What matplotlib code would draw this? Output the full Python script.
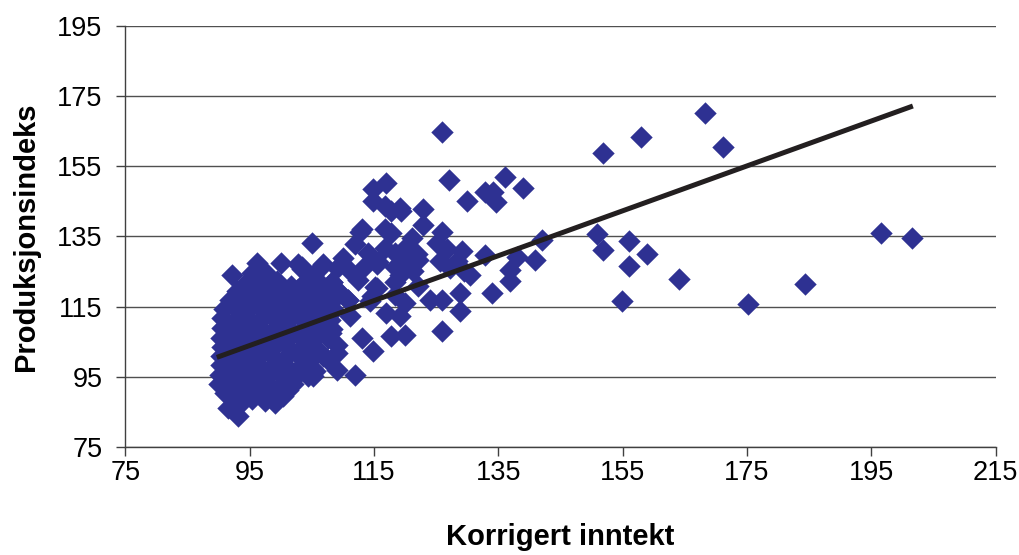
import numpy as np
import matplotlib
matplotlib.use("Agg")
import matplotlib.pyplot as plt

plt.rcParams['font.family'] = ['Liberation Sans', 'DejaVu Sans']

# municipalities far to the right
inntekt_hoy = [151.9, 158.0, 168.2, 171.2, 150.9, 151.9, 156.0, 159.0, 156.0, 164.0,
               154.9, 175.2, 184.3, 196.5, 201.5]
prod_hoy = [158.7, 163.4, 170.2, 160.6, 135.8, 131.2, 133.8, 130.0, 126.7, 122.8,
            116.6, 115.6, 121.3, 135.9, 134.5]

# middle band, income 105-142
inntekt_mid = [125.9, 127.0, 136.0, 138.9, 129.9, 132.9, 134.2, 134.7, 142.0, 140.9,
               138.0, 136.9, 136.9, 133.9, 132.9, 130.4, 129.4, 128.8, 128.8, 125.9,
               125.9, 124.0, 125.9, 125.1, 126.7, 129.1, 128.3, 125.6, 127.2, 122.9,
               122.9, 122.1, 121.3, 120.3, 121.9, 121.1, 120.0, 119.4, 119.2, 117.8,
               116.8, 114.9, 114.9, 117.0, 113.0, 116.8, 117.8, 111.9, 116.8, 114.1,
               110.0, 115.4, 113.3, 111.1, 109.0, 120.3, 119.2, 121.3, 122.1, 120.0,
               117.0, 119.2, 120.0, 117.8, 113.0, 114.9, 111.1, 109.0, 109.0, 111.9,
               115.4, 114.3, 105.0, 106.8, 115.6, 103.4, 108.2, 115.2, 112.4, 109.2,
               110.8, 114.7, 118.4, 118.4, 118.4, 118.4, 112.7, 105.2]
prod_mid = [164.9, 151.2, 152.0, 148.9, 145.0, 147.8, 147.8, 144.8, 134.0, 128.4,
            129.2, 125.4, 122.2, 118.8, 129.7, 124.1, 125.1, 118.9, 113.6, 108.1,
            117.0, 117.0, 136.3, 133.0, 131.3, 130.8, 127.9, 127.9, 126.1, 142.9,
            138.2, 128.4, 128.4, 129.4, 129.9, 134.6, 131.8, 142.2, 143.2, 142.2,
            143.7, 145.1, 148.4, 150.3, 137.0, 137.0, 136.1, 132.7, 131.8, 130.3,
            128.9, 127.0, 126.1, 125.1, 126.1, 127.9, 124.1, 125.1, 120.8, 115.9,
            113.2, 112.2, 107.0, 106.5, 106.1, 102.2, 112.2, 101.8, 97.0, 95.6,
            120.3, 116.5, 133.0, 127.0, 127.6, 126.4, 122.1, 120.7, 122.7, 119.3,
            117.0, 117.9, 121.9, 118.4, 130.4, 126.4, 136.4, 95.1]

# dense group of low-income municipalities
inntekt_lav = [96.1, 100.1, 102.8, 106.8,
               92.1, 95.3, 97.8, 103.4, 105.2,
               94.5, 96.9, 99.4, 101.7, 104.0, 106.3, 108.2,
               93.0, 95.2, 97.5, 100.2, 102.6, 104.8, 107.0, 109.2,
               91.8, 94.0, 96.3, 98.6, 101.0, 103.2, 105.6, 108.0, 110.8,
               90.9, 92.9, 95.1, 97.3, 99.7, 102.0, 104.3, 106.5, 108.6,
               90.6, 92.4, 94.4, 96.6, 98.8, 101.1, 103.4, 105.7, 107.9,
               90.5, 92.6, 94.8, 97.0, 99.2, 101.5, 103.8, 106.0, 108.3,
               90.4, 92.2, 94.2, 96.4, 98.6, 100.8, 103.1, 105.3, 107.6,
               90.5, 92.5, 94.7, 96.9, 99.1, 101.4, 103.6, 105.9,
               90.3, 92.1, 94.0, 96.2, 98.4, 100.7, 103.0, 105.2, 106.8,
               90.4, 92.4, 94.5, 96.7, 98.9, 101.2, 103.4, 105.0,
               90.2, 92.0, 93.9, 96.0, 98.2, 100.4, 102.6, 104.3,
               90.0, 91.9, 93.8, 95.8, 97.9, 100.0, 102.0,
               91.0, 92.8, 94.7, 96.6, 98.5, 100.3, 101.1,
               91.5, 93.6, 95.4, 97.4, 99.1,
               93.1,
               106.5, 108.0, 109.0, 107.5, 105.5,
               93.3, 95.7, 98.0, 100.5, 102.9, 95.0, 97.2, 99.6, 101.9, 104.2]
prod_lav = [127.5, 127.5, 127.0, 126.8,
            123.9, 124.5, 124.2, 125.6, 124.0,
            122.0, 121.5, 122.3, 121.0, 122.4, 121.6, 122.1,
            119.5, 119.0, 119.8, 118.9, 119.6, 118.7, 119.4, 119.3,
            117.0, 116.6, 117.3, 116.5, 117.2, 116.3, 117.0, 116.4, 117.0,
            114.3, 114.0, 114.6, 113.8, 114.4, 113.7, 114.2, 113.6, 114.0,
            111.6, 111.0, 111.8, 111.2, 111.7, 111.0, 111.5, 110.9, 111.3,
            108.8, 108.3, 109.1, 108.5, 109.0, 108.2, 108.9, 108.4, 108.7,
            106.0, 105.6, 106.4, 105.8, 106.3, 105.5, 106.2, 105.6, 106.0,
            103.4, 103.0, 103.7, 103.2, 103.8, 103.0, 103.5, 102.9,
            100.9, 100.4, 101.2, 100.6, 101.1, 100.3, 100.9, 100.5, 101.0,
            98.3, 97.8, 98.5, 97.9, 98.4, 97.6, 98.2, 97.5,
            95.6, 95.1, 95.8, 95.2, 95.7, 95.0, 95.5, 95.3,
            92.8, 92.4, 93.1, 92.6, 93.0, 92.3, 92.9,
            90.3, 89.8, 90.5, 89.9, 90.2, 89.6, 91.3,
            86.1, 87.6, 88.6, 88.1, 87.6,
            83.9,
            110.0, 107.5, 104.0, 100.0, 96.5,
            107.2, 110.1, 104.6, 112.6, 107.4, 99.4, 102.3, 96.6, 115.6, 99.2]

x = np.array(inntekt_lav + inntekt_mid + inntekt_hoy)
y = np.array(prod_lav + prod_mid + prod_hoy)

# linear trend drawn across the data range
trend_start, trend_end = 89.7, 201.7
trend_y0, trend_y1 = 100.5, 172.2

fig = plt.figure(figsize=(10.2, 5.55), dpi=100)
ax = fig.add_axes([0.123, 0.195, 0.853, 0.758])

ax.scatter(x, y, marker='D', s=130, color='#2e3192', linewidths=0, zorder=3)
ax.plot([trend_start, trend_end], [trend_y0, trend_y1], color='#231f20', lw=3.6,
        solid_capstyle='butt', zorder=4)

ax.set_xlim(75, 215)
ax.set_ylim(75, 195)
ax.set_xticks(np.arange(75, 216, 20))
ax.set_yticks(np.arange(75, 196, 20))
ax.yaxis.grid(True, color='#505050', lw=1.0)
ax.set_axisbelow(True)

for side in ['top', 'right']:
    ax.spines[side].set_visible(False)
for side in ['left', 'bottom']:
    ax.spines[side].set_color('#404040')
    ax.spines[side].set_linewidth(1.0)

ax.tick_params(axis='both', direction='out', length=6.5, width=1.0, color='#404040',
               labelsize=19.5, pad=3)
ax.tick_params(axis='y', pad=10)

ax.set_xlabel('Korrigert inntekt', fontsize=21, fontweight='bold', labelpad=27)
ax.set_ylabel('Produksjonsindeks', fontsize=21, fontweight='bold', labelpad=12)

fig.savefig('out.png', dpi=100)
